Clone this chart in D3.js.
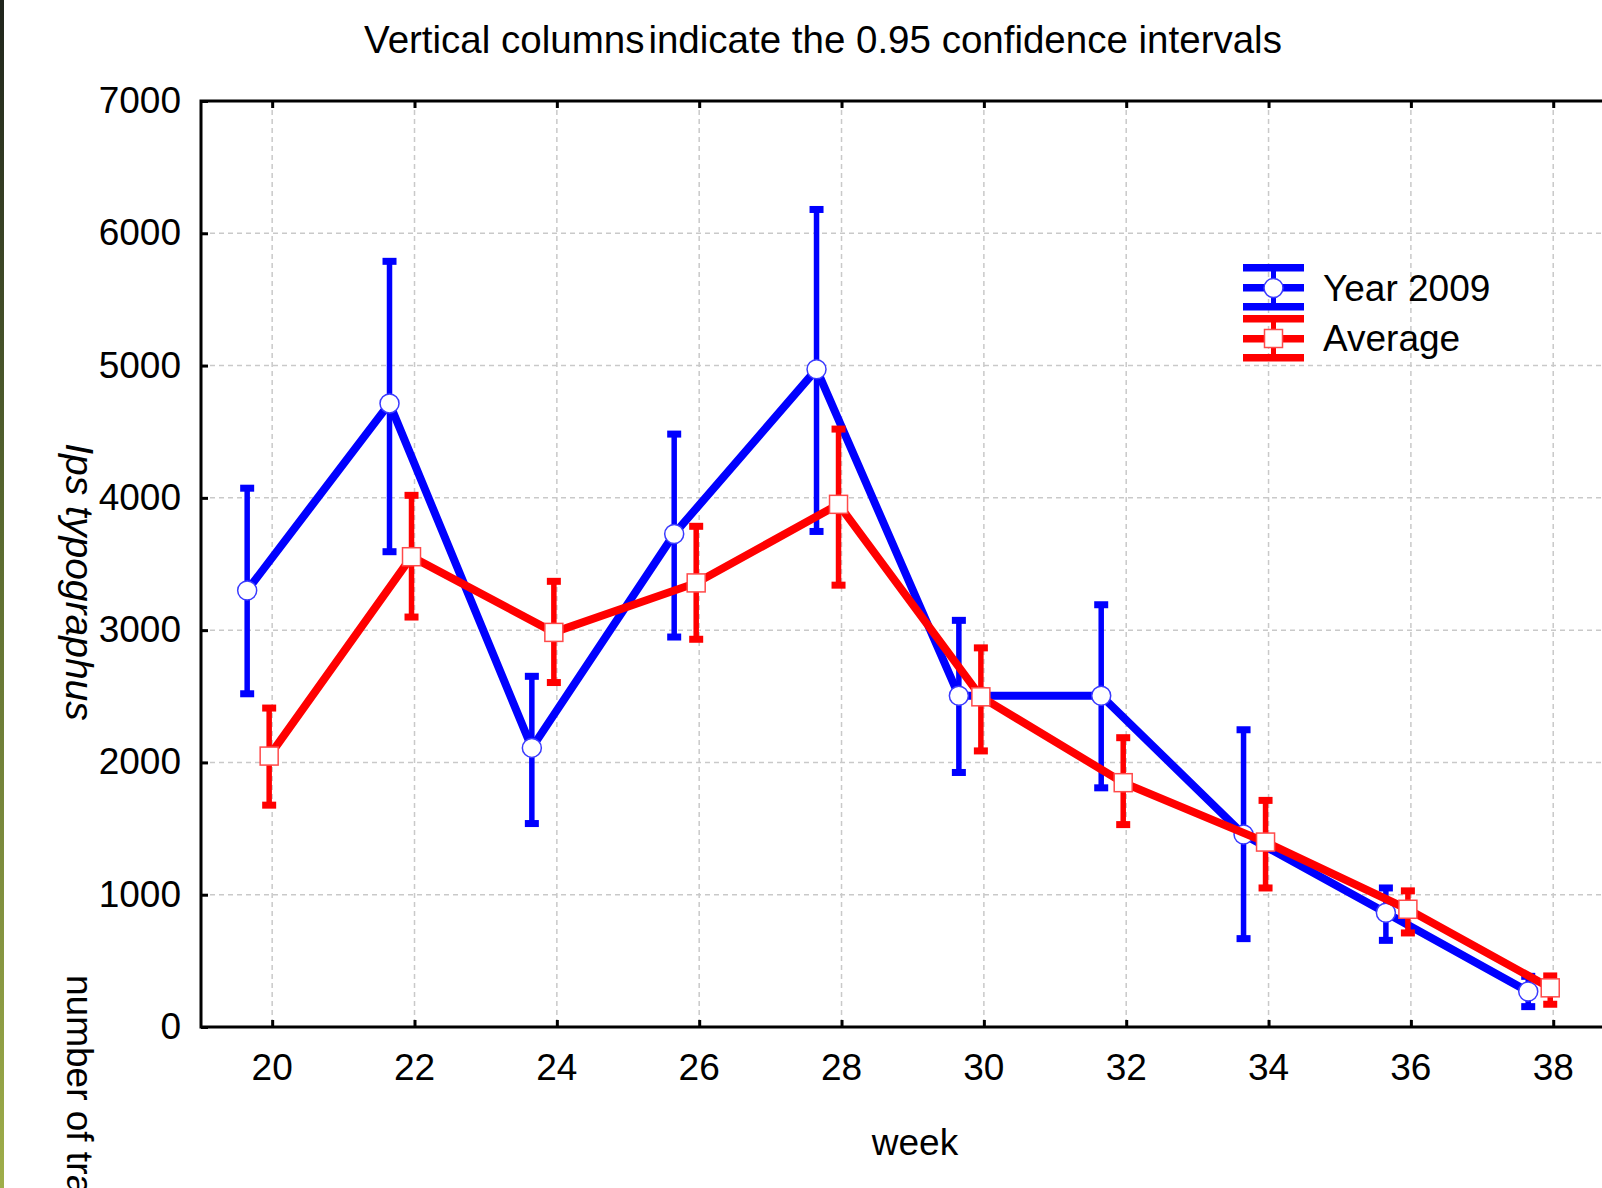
<!DOCTYPE html>
<html>
<head>
<meta charset="utf-8">
<script src="https://cdn.jsdelivr.net/npm/d3@7"></script>
<style>
  html, body { margin: 0; padding: 0; background: #fff; overflow: hidden; }
  text { font-family: "Liberation Sans", Arial, sans-serif; fill: #000; }
</style>
</head>
<body>
<svg id="chart"></svg>
<script>
// weeks on the x axis
const weeks = [20, 22, 24, 26, 28, 30, 32, 34, 36, 38];

// Year 2009: mean and 0.95 CI
const year2009Mean = [3300, 4714, 2110, 3727, 4972, 2504, 2504, 1455, 864, 268];
const year2009Low  = [2519, 3593, 1538, 2948, 3746, 1924, 1808, 668, 655, 154];
const year2009High = [4073, 5788, 2651, 4482, 6180, 3074, 3192, 2247, 1051, 383];

// Average: mean and 0.95 CI
const averageMean = [2048, 3555, 2983, 3357, 3951, 2496, 1847, 1398, 890, 296];
const averageLow  = [1677, 3099, 2604, 2931, 3340, 2087, 1530, 1051, 711, 172];
const averageHigh = [2411, 4019, 3369, 3785, 4520, 2866, 2187, 1713, 1029, 386];

const yTicks = [0, 1000, 2000, 3000, 4000, 5000, 6000, 7000];
const xTicks = weeks;

const W = 1602, H = 1188;
const margin = { left: 201, top: 101, bottom: 1027 };

const svg = d3.select("#chart").attr("width", W).attr("height", H);

// strip of photo background at the left edge
const grad = svg.append("defs").append("linearGradient")
    .attr("id", "strip").attr("x1", 0).attr("y1", 0).attr("x2", 0).attr("y2", 1);
grad.append("stop").attr("offset", "0%").attr("stop-color", "#1f241c");
grad.append("stop").attr("offset", "45%").attr("stop-color", "#5a6a30");
grad.append("stop").attr("offset", "100%").attr("stop-color", "#9fae4a");
svg.append("rect").attr("x", 0).attr("y", 0).attr("width", 4).attr("height", H)
    .attr("fill", "url(#strip)");

const x = d3.scaleLinear().domain([19, 40]).range([margin.left, margin.left + 21 * 71.17]);
const y = d3.scaleLinear().domain([0, 7000]).range([margin.bottom, margin.top]);

const font = 37;

// grid
const grid = svg.append("g").attr("stroke", "#c9c9c9").attr("stroke-width", 1.5)
    .attr("stroke-dasharray", "5,4");
grid.selectAll(".vg").data(xTicks).enter().append("line")
    .attr("x1", d => x(d)).attr("x2", d => x(d))
    .attr("y1", margin.top).attr("y2", margin.bottom);
grid.selectAll(".hg").data(yTicks.filter(d => d > 0 && d < 7000)).enter().append("line")
    .attr("x1", margin.left).attr("x2", W)
    .attr("y1", d => y(d)).attr("y2", d => y(d));

// axes (frame lines with inward ticks)
const yAxis = svg.append("g")
    .attr("transform", "translate(" + margin.left + ",0)")
    .call(d3.axisRight(y).tickValues(yTicks).tickSize(7).tickFormat(""));
const xAxisB = svg.append("g")
    .attr("transform", "translate(0," + margin.bottom + ")")
    .call(d3.axisTop(x).tickValues(xTicks).tickSize(7).tickFormat(""));
const xAxisT = svg.append("g")
    .attr("transform", "translate(0," + margin.top + ")")
    .call(d3.axisBottom(x).tickValues(xTicks).tickSize(7).tickFormat(""));
[yAxis, xAxisB, xAxisT].forEach(g => {
    g.select(".domain").remove();
    g.selectAll(".tick line").attr("stroke", "#000").attr("stroke-width", 3);
});
svg.append("path")
    .attr("d", "M" + W + "," + margin.top + "H" + margin.left + "V" + margin.bottom + "H" + W)
    .attr("fill", "none").attr("stroke", "#000").attr("stroke-width", 3);

// tick labels
svg.append("g").selectAll("text").data(yTicks).enter().append("text")
    .attr("x", 181).attr("y", d => y(d) + 12)
    .attr("text-anchor", "end").attr("font-size", font)
    .text(d => d);
svg.append("g").selectAll("text").data(xTicks).enter().append("text")
    .attr("x", d => x(d)).attr("y", 1080)
    .attr("text-anchor", "middle").attr("font-size", font)
    .text(d => d);

// titles
const title = svg.append("text").attr("x", 823).attr("y", 53).attr("text-anchor", "middle")
    .attr("font-size", 38.5);
title.append("tspan").text("Vertical columns");
title.append("tspan").attr("dx", 4).text("indicate the 0.95 confidence intervals");
svg.append("text").attr("x", 915).attr("y", 1155).attr("text-anchor", "middle")
    .attr("font-size", font).text("week");
svg.append("text").attr("transform", "translate(66,582) rotate(90)")
    .attr("text-anchor", "middle").attr("font-size", 39).attr("font-style", "italic")
    .text("Ips typographus");
svg.append("text").attr("transform", "translate(67,975) rotate(90)")
    .attr("text-anchor", "start").attr("font-size", font)
    .text("number of traps");

// series
const series = [
    { name: "Year 2009", color: "#0000ff", stroke: "#3a3aff", shape: "circle", dx: -25,
      mean: year2009Mean, low: year2009Low, high: year2009High },
    { name: "Average", color: "#ff0000", stroke: "#ff4a4a", shape: "square", dx: -3,
      mean: averageMean, low: averageLow, high: averageHigh }
];

const capW = 14, capH = 7, markR = 9.5, sq = 18;

series.forEach(s => {
    const pts = weeks.map((w, i) => ({ w: w, m: s.mean[i], lo: s.low[i], hi: s.high[i] }));
    const g = svg.append("g");
    const px = d => x(d.w) + s.dx;

    g.append("path").datum(pts)
        .attr("d", d3.line().x(px).y(d => y(d.m)))
        .attr("fill", "none").attr("stroke", s.color).attr("stroke-width", 8)
        .attr("stroke-linejoin", "miter");

    const eb = g.selectAll(".eb").data(pts).enter().append("g");
    eb.append("line")
        .attr("x1", px).attr("x2", px)
        .attr("y1", d => y(d.hi)).attr("y2", d => y(d.lo))
        .attr("stroke", s.color).attr("stroke-width", 5.5);
    eb.append("rect")
        .attr("x", d => px(d) - capW / 2).attr("y", d => y(d.hi) - capH / 2)
        .attr("width", capW).attr("height", capH).attr("fill", s.color);
    eb.append("rect")
        .attr("x", d => px(d) - capW / 2).attr("y", d => y(d.lo) - capH / 2)
        .attr("width", capW).attr("height", capH).attr("fill", s.color);

    if (s.shape === "circle") {
        g.selectAll(".mk").data(pts).enter().append("circle")
            .attr("cx", px).attr("cy", d => y(d.m)).attr("r", markR)
            .attr("fill", "#fff").attr("stroke", s.stroke).attr("stroke-width", 1.5);
    } else {
        g.selectAll(".mk").data(pts).enter().append("rect")
            .attr("x", d => px(d) - sq / 2).attr("y", d => y(d.m) - sq / 2)
            .attr("width", sq).attr("height", sq)
            .attr("fill", "#fff").attr("stroke", s.stroke).attr("stroke-width", 1.5);
    }
});

// legend
const legX = 1243, legW = 61, legCx = 1273.5;
const legend = svg.append("g");
series.forEach((s, i) => {
    const top = 264 + i * 51;
    const g = legend.append("g");
    g.append("rect").attr("x", legCx - 2.5).attr("y", top).attr("width", 5).attr("height", 46)
        .attr("fill", s.color);
    [0, 20, 39].forEach(o => {
        g.append("rect").attr("x", legX).attr("y", top + o).attr("width", legW).attr("height", 7.5)
            .attr("fill", s.color);
    });
    if (s.shape === "circle") {
        g.append("circle").attr("cx", legCx).attr("cy", top + 24).attr("r", markR)
            .attr("fill", "#fff").attr("stroke", s.stroke).attr("stroke-width", 1.5);
    } else {
        g.append("rect").attr("x", legCx - sq / 2).attr("y", top + 23.5 - sq / 2)
            .attr("width", sq).attr("height", sq)
            .attr("fill", "#fff").attr("stroke", s.stroke).attr("stroke-width", 1.5);
    }
    g.append("text").attr("x", 1323).attr("y", 301 + i * 50).attr("font-size", font)
        .text(s.name);
});
</script>
</body>
</html>
